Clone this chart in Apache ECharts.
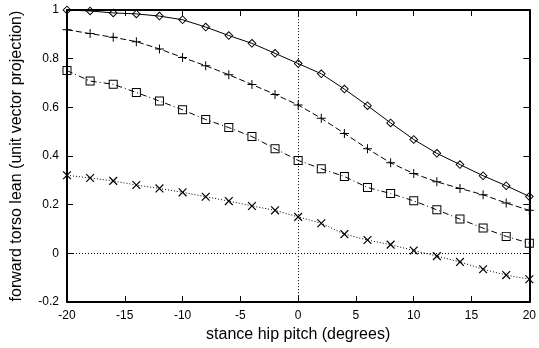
<!DOCTYPE html>
<html>
<head>
<meta charset="utf-8">
<script src="https://cdn.jsdelivr.net/npm/echarts@6/dist/echarts.min.js"></script>
<style>
  html, body { margin: 0; padding: 0; background: #fff; }
  #box01 { width: 539px; height: 348px; }
</style>
</head>
<body>
<div id="box01"></div>
<script>
// 数据：stance hip pitch 每 2 度一个点
var pitch = [-20,-18,-16,-14,-12,-10,-8,-6,-4,-2,0,2,4,6,8,10,12,14,16,18,20];
var diamondVals = [1.0,0.996,0.988,0.984,0.975,0.96,0.93,0.895,0.863,0.822,0.78,0.738,0.675,0.607,0.536,0.468,0.411,0.365,0.319,0.278,0.234];
var plusVals = [0.919,0.903,0.888,0.87,0.84,0.805,0.771,0.734,0.694,0.653,0.61,0.555,0.493,0.43,0.372,0.328,0.294,0.267,0.241,0.207,0.177];
var squareVals = [0.751,0.708,0.695,0.661,0.626,0.59,0.55,0.517,0.48,0.43,0.382,0.348,0.316,0.271,0.246,0.216,0.179,0.141,0.104,0.07,0.042];
var crossVals = [0.321,0.31,0.298,0.281,0.267,0.251,0.233,0.215,0.195,0.177,0.15,0.124,0.079,0.055,0.036,0.012,-0.011,-0.035,-0.065,-0.089,-0.106];
var xTicks = [-20,-15,-10,-5,0,5,10,15,20];
var yTicks = [-0.2,0,0.2,0.4,0.6,0.8,1];

function pairs(vals) {
    return pitch.map(function (p, i) { return [p, vals[i]]; });
}

// 空心标记：外圈顺时针，内圈逆时针，中间镂空
var plusPath = 'path://M0,4.45H10V5.55H0Z M4.45,0H5.55V10H4.45Z';
var squarePath = 'path://M0,0H10V10H0Z M1.1,1.1V8.9H8.9V1.1Z';
var diamondPath = 'path://M5,0L10,5L5,10L0,5Z M5,1.5L1.5,5L5,8.5L8.5,5Z';
var font = 'Liberation Sans, Arial, sans-serif';

function mkSeries(name, vals, symbol, size, lineType, extra) {
    var s = {
        name: name,
        type: 'line',
        data: pairs(vals),
        symbol: symbol,
        symbolSize: size,
        showAllSymbol: true,
        clip: false,
        animation: false,
        lineStyle: { color: '#000', width: 1, type: lineType },
        itemStyle: { color: '#000', borderWidth: 0 },
        z: 3
    };
    for (var k in extra) s[k] = extra[k];
    return s;
}

var myChart = echarts.init(document.getElementById('box01'));

function axisCommon(show) {
    return {
        axisLine: { show: true, onZero: false, lineStyle: { color: '#000', width: 2 } },
        axisTick: { show: true, inside: true, length: 6, lineStyle: { color: '#000', width: 1 } },
        axisLabel: { show: show, color: '#000', fontSize: 12, fontFamily: font, margin: 8 },
        splitLine: { show: false }
    };
}

var option = {
    backgroundColor: '#fff',
    animation: false,
    grid: { left: 67, right: 6, top: 10, bottom: 40, containLabel: false },
    xAxis: [
        Object.assign({
            type: 'value', position: 'bottom', min: -20, max: 20, interval: 5,
            name: 'stance hip pitch (degrees)', nameLocation: 'middle', nameGap: 20,
            nameTextStyle: { color: '#000', fontSize: 16, fontFamily: font }
        }, axisCommon(true)),
        Object.assign({ type: 'value', position: 'top', min: -20, max: 20, interval: 5 }, axisCommon(false))
    ],
    yAxis: [
        Object.assign({
            type: 'value', position: 'left', min: -0.2, max: 1, interval: 0.2,
            name: 'forward torso lean (unit vector projection)', nameLocation: 'middle', nameGap: 42,
            nameTextStyle: { color: '#000', fontSize: 16, fontFamily: font }
        }, axisCommon(true)),
        Object.assign({ type: 'value', position: 'right', min: -0.2, max: 1, interval: 0.2 }, axisCommon(false))
    ],
    series: [
        mkSeries('diamond', diamondVals, diamondPath, 9, 'solid', {
            markLine: {
                silent: true, symbol: 'none', animation: false,
                label: { show: false },
                lineStyle: { color: '#000', width: 1, type: [1, 2] },
                data: [{ xAxis: 0 }, { yAxis: 0 }]
            }
        }),
        mkSeries('plus', plusVals, plusPath, 9, [6, 3], {}),
        mkSeries('square', squareVals, squarePath, 9, [6, 3, 1, 3], {}),
        mkSeries('cross', crossVals, plusPath, 11, [1, 2], { symbolRotate: 45 })
    ]
};
myChart.setOption(option);
</script>
</body>
</html>
